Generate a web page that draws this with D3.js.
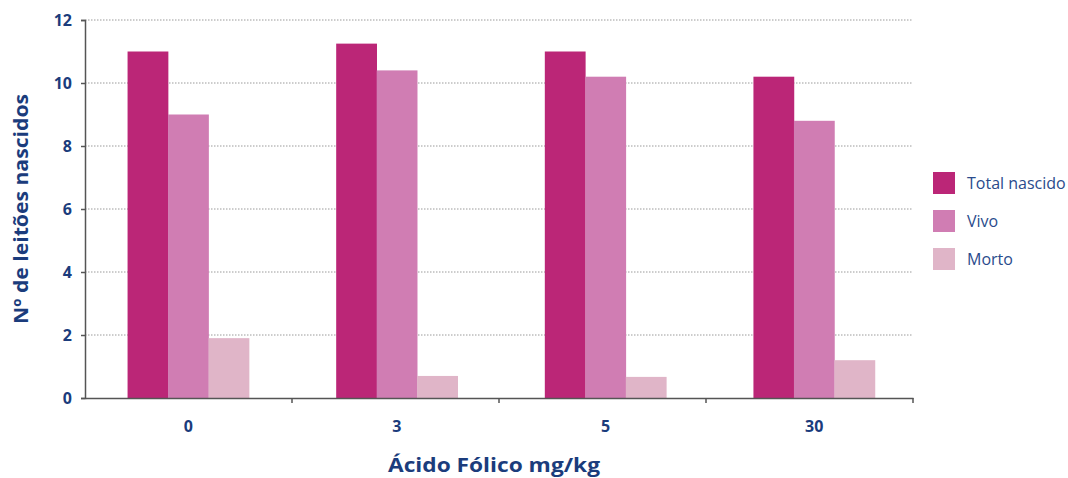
<!DOCTYPE html>
<html>
<head>
<meta charset="utf-8">
<script src="https://cdn.jsdelivr.net/npm/d3@7"></script>
<style>
  html, body { margin: 0; padding: 0; background: #fff; }
  svg { display: block; font-family: "Open Sans", sans-serif; }
</style>
</head>
<body>
<svg id="chart" width="1068" height="478"></svg>
<script>
// Doses of folic acid (mg/kg) and piglets born per litter
const doses = ["0", "3", "5", "30"];
const seriesNames = ["Total nascido", "Vivo", "Morto"];
const totalNascido = [11.0, 11.25, 11.0, 10.2];
const vivo = [9.0, 10.4, 10.2, 8.8];
const morto = [1.9, 0.7, 0.67, 1.2];
const yTicks = [0, 2, 4, 6, 8, 10, 12];
const colors = ["#bb2677", "#d07db3", "#e0b5c8"];

const seriesValues = [totalNascido, vivo, morto];
const rows = doses.map((d, i) => ({
  dose: d,
  values: seriesNames.map((s, j) => ({ key: s, value: seriesValues[j][i] }))
}));

const svg = d3.select("#chart");
const margin = { left: 85, right: 155, top: 20, bottom: 80 };
const W = 1068, H = 478;
// axis bands (separator ticks) and the slightly wider layout used for bar groups
const x0 = d3.scaleBand().domain(doses).range([margin.left, W - margin.right]).padding(0);
const xg = d3.scaleBand().domain(doses).range([margin.left - 1, W - margin.right + 5.5]).padding(0);
const y = d3.scaleLinear().domain([0, 12]).range([H - margin.bottom, margin.top]);
const groupWidth = 121.5;
const x1 = d3.scaleBand().domain(seriesNames).range([0, groupWidth]).padding(0);

const navy = "#1b3c7c";
const titleFont = "'Open Sans', sans-serif";

// dotted gridlines
svg.append("g")
  .selectAll("line")
  .data(yTicks.filter(t => t > 0))
  .join("line")
  .attr("x1", margin.left).attr("x2", W - margin.right)
  .attr("y1", d => y(d)).attr("y2", d => y(d))
  .attr("stroke", "#9a9a9a")
  .attr("stroke-width", 1)
  .attr("stroke-dasharray", "1.5,1.5");

// bars
const groups = svg.append("g")
  .selectAll("g")
  .data(rows)
  .join("g")
  .attr("transform", d => `translate(${xg(d.dose) + (xg.bandwidth() - groupWidth) / 2},0)`);

groups.selectAll("rect")
  .data(d => d.values)
  .join("rect")
  .attr("x", d => x1(d.key))
  .attr("width", x1.bandwidth() + 0.3)
  .attr("y", d => y(d.value))
  .attr("height", d => y(0) - y(d.value))
  .attr("fill", (d, i) => colors[i]);

// y axis
const yAxis = svg.append("g")
  .attr("transform", `translate(${margin.left},0)`)
  .call(d3.axisLeft(y).tickValues(yTicks).tickSize(4).tickPadding(9).tickFormat(d3.format("d")));
yAxis.select(".domain").attr("stroke", "#555").attr("stroke-width", 1.5);
yAxis.selectAll(".tick line").attr("stroke", "#555").attr("stroke-width", 1.5);
yAxis.selectAll("text")
  .attr("fill", navy)
  .style("font-size", "16px")
  .style("font-weight", "700")
  .style("font-family", "'Open Sans', sans-serif");

// x axis line and separator ticks between dose groups
const xAxis = svg.append("g")
  .attr("transform", `translate(0,${y(0)})`)
  .call(d3.axisBottom(x0).tickSize(0).tickFormat(""));
xAxis.select(".domain").attr("stroke", "#555").attr("stroke-width", 1.5);

svg.append("g")
  .selectAll("line")
  .data(doses)
  .join("line")
  .attr("x1", d => x0(d) + x0.bandwidth()).attr("x2", d => x0(d) + x0.bandwidth())
  .attr("y1", y(0)).attr("y2", y(0) + 5)
  .attr("stroke", "#555").attr("stroke-width", 1.5);

// dose labels under each bar group
svg.append("g")
  .selectAll("text")
  .data(doses)
  .join("text")
  .attr("x", d => xg(d) + xg.bandwidth() / 2)
  .attr("y", y(0) + 34)
  .attr("text-anchor", "middle")
  .attr("fill", navy)
  .style("font-size", "16px")
  .style("font-weight", "700")
  .text(d => d);

// axis titles (stretched to the wide geometric look of the house font)
svg.append("text")
  .attr("transform", `translate(28,${(y(0) + y(12)) / 2}) rotate(-90)`)
  .attr("text-anchor", "middle")
  .attr("fill", navy)
  .attr("textLength", 230)
  .attr("lengthAdjust", "spacingAndGlyphs")
  .style("font-family", titleFont)
  .style("font-size", "20px")
  .style("font-weight", "700")
  .text("Nº de leitões nascidos");

svg.append("text")
  .attr("x", 494)
  .attr("y", 472)
  .attr("text-anchor", "middle")
  .attr("fill", navy)
  .attr("textLength", 212)
  .attr("lengthAdjust", "spacingAndGlyphs")
  .style("font-family", titleFont)
  .style("font-size", "20px")
  .style("font-weight", "700")
  .text("Ácido Fólico mg/kg");

// legend
const legend = svg.append("g").attr("transform", "translate(933,172)");
const items = legend.selectAll("g")
  .data(seriesNames)
  .join("g")
  .attr("transform", (d, i) => `translate(0,${i * 38})`);
items.append("rect")
  .attr("width", 22).attr("height", 22)
  .attr("fill", (d, i) => colors[i]);
items.append("text")
  .attr("x", 34).attr("y", 17)
  .attr("fill", "#2a4b8c")
  .style("font-size", "16px")
  .text(d => d);
</script>
</body>
</html>
